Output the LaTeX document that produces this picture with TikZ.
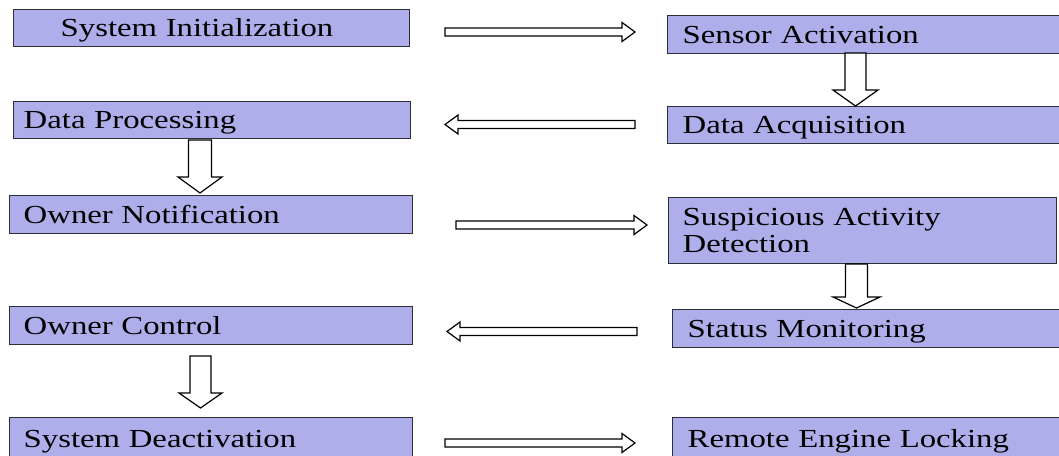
\documentclass[tikz,border=0pt]{standalone}
\usepackage{fontspec}
\setmainfont{Liberation Serif}[FakeStretch=1.26]
\usetikzlibrary{calc}

\definecolor{boxfill}{RGB}{174,174,234}
\definecolor{boxline}{RGB}{45,45,55}

\tikzset{
  box/.style={draw=boxline, line width=1.4pt, fill=boxfill, anchor=north west,
              inner ysep=0pt, align=left, font=\fontsize{26}{26.7}\selectfont},
  oneline/.style={text height=17.5pt, text depth=0pt},
  arr/.style={draw=black, line width=1.2pt, fill=white, line join=miter},
}

% hollow block arrow: shaft half width, head half width, head length, tail, tip
\newcommand\blockarrow[5]{%
  \draw[arr] let \p1=($(#5)-(#4)$), \n1={atan2(\y1,\x1)}, \n2={veclen(\x1,\y1)} in
    {[shift={(#4)}, rotate=\n1]
     (0,#1) -- (\n2-#3,#1) -- (\n2-#3,#2) -- (\n2,0) -- (\n2-#3,-#2)
     -- (\n2-#3,-#1) -- (0,-#1) -- cycle};
}

\begin{document}
\begin{tikzpicture}[x=1pt, y=-1pt]
\useasboundingbox (0,0) rectangle (1059,455);
\clip (0,0) rectangle (1059,455);

% left column
\node[box, oneline, inner xsep=47pt, text width=302pt, minimum height=37pt] (sysinit) at (13,9) {System Initialization};
\node[box, oneline, inner xsep=10pt, text width=377pt, minimum height=37pt] (dataproc) at (13,101) {Data Processing};
\node[box, oneline, inner xsep=14pt, text width=375pt, minimum height=38pt] (ownernot) at (9,195) {Owner Notification};
\node[box, oneline, inner xsep=14pt, text width=375pt, minimum height=38pt] (ownerctl) at (9,306) {Owner Control};
\node[box, oneline, inner xsep=14pt, text width=375pt, minimum height=43pt] (sysdeact) at (9,417) {System Deactivation};

% right column
\node[box, oneline, inner xsep=15pt, text width=368pt, minimum height=38pt] (sensor) at (667,15) {Sensor Activation};
\node[box, oneline, inner xsep=15pt, text width=368pt, minimum height=37pt] (dataacq) at (667,106) {Data Acquisition};
\node[box, inner xsep=14pt, text width=360pt, minimum height=66pt] (susp) at (668,197) {Suspicious Activity\\Detection};
\node[box, oneline, inner xsep=15pt, text width=363pt, minimum height=38pt] (status) at (672,309) {Status Monitoring};
\node[box, oneline, inner xsep=15pt, text width=363pt, minimum height=43pt] (remote) at (672,417) {Remote Engine Locking};

% arrow end points
\coordinate (h1s) at (445,32);    \coordinate (h1e) at (635,32);
\coordinate (h2s) at (635,124.5); \coordinate (h2e) at (445,124.5);
\coordinate (h3s) at (456,225);   \coordinate (h3e) at (647,225);
\coordinate (h4s) at (637,331.5); \coordinate (h4e) at (447,331.5);
\coordinate (h5s) at (445,443);   \coordinate (h5e) at (635,443);

\coordinate (v1s) at (855.5,53);  \coordinate (v1e) at (855.5,106);
\coordinate (v2s) at (200,140);   \coordinate (v2e) at (200,193);
\coordinate (v3s) at (856.5,264); \coordinate (v3e) at (856.5,308);
\coordinate (v4s) at (200.5,356); \coordinate (v4e) at (200.5,408);

% horizontal flow
\blockarrow{4}{9.5}{13}{h1s}{h1e}
\blockarrow{4}{9.5}{13}{h2s}{h2e}
\blockarrow{4}{9.5}{13}{h3s}{h3e}
\blockarrow{4}{9.5}{13}{h4s}{h4e}
\blockarrow{4}{9.5}{13}{h5s}{h5e}

% vertical flow
\blockarrow{10.5}{22.5}{16}{v1s}{v1e}
\blockarrow{11.5}{22}{16}{v2s}{v2e}
\blockarrow{11}{23.5}{11}{v3s}{v3e}
\blockarrow{10.5}{21.5}{15}{v4s}{v4e}
\end{tikzpicture}
\end{document}
